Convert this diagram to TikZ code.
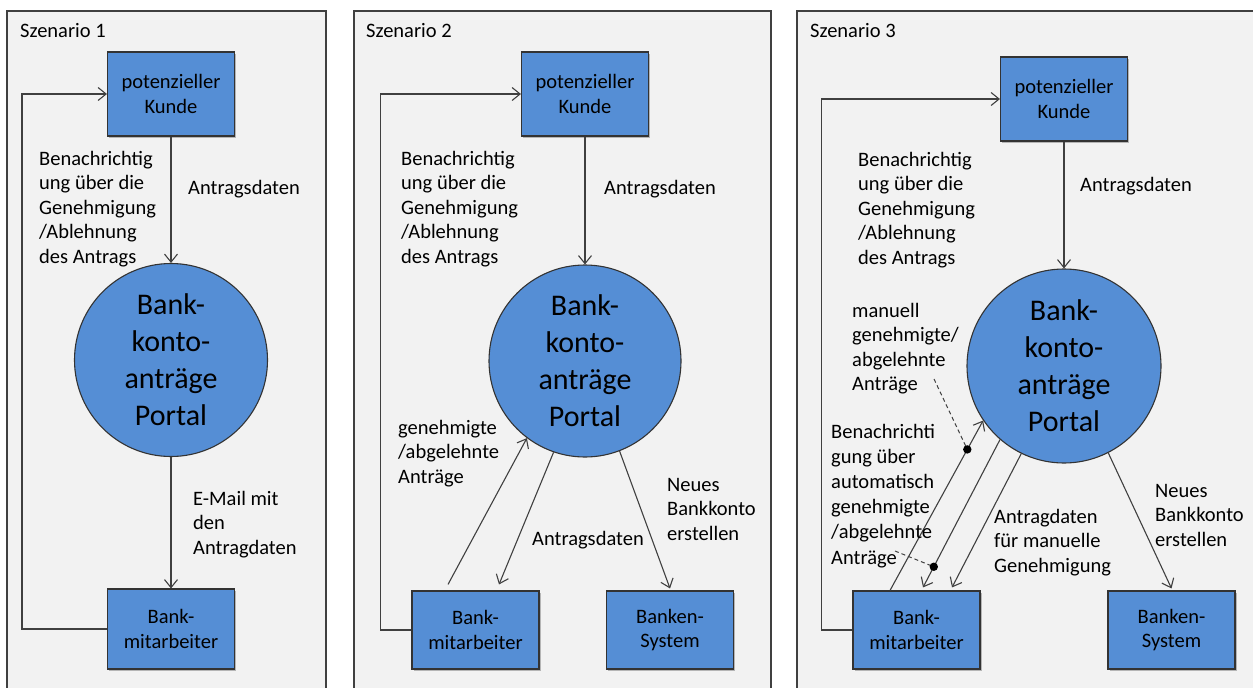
\documentclass[tikz,border=0pt]{standalone}
\usepackage{fontspec}
\setmainfont{Carlito}
\usetikzlibrary{arrows.meta,shadows}
\definecolor{boxblue}{HTML}{558ED5}
\definecolor{panelbg}{HTML}{F2F2F2}
\definecolor{edge}{HTML}{404040}
\begin{document}
\begin{tikzpicture}[x=1pt,y=-1pt,
  panel/.style={draw=edge, line width=1.2pt, fill=panelbg},
  bx/.style={draw=black!80, line width=1.1pt, fill=boxblue, minimum width=127pt, minimum height=#1,
    align=center, inner sep=0pt, font=\fontsize{20.5}{24.5}\selectfont,
    drop shadow={shadow xshift=1.5pt, shadow yshift=-2pt, opacity=0.25, fill=black}},
  portal/.style={circle, draw=black!80, line width=1.1pt, fill=boxblue, minimum size=#1,
    align=center, inner sep=0pt, font=\fontsize{30}{37}\selectfont},
  lbl/.style={anchor=base west, align=left, inner sep=0pt, font=\fontsize{20.5}{24.5}\selectfont},
  arr/.style={draw=edge, line width=1.1pt, -{Straight Barb[length=8pt,width=13pt]}},
  dsh/.style={draw=edge, line width=1pt, dash pattern=on 4pt off 3pt},
  dotm/.style={fill=black}
]
\useasboundingbox (0,0) rectangle (1253,688);
\clip (0,0) rectangle (1253,688);
\fill[white] (0,0) rectangle (1253,688);

% panels
\draw[panel] (7,11) rectangle (326,700);
\draw[panel] (354,11) rectangle (771,700);
\draw[panel] (797,11) rectangle (1265,700);

% ---------------- Scenario 1
\node[lbl] (s1) at (20,37) {Szenario 1};
\node[bx=84pt] (k1) at (171,94) {potenzieller\\Kunde};
\node[portal=193pt] (c1) at (171,360) {Bank-\\konto-\\anträge\\Portal};
\node[bx=80pt] (b1) at (171,629) {Bank-\\mitarbeiter};
\draw[arr] (k1) -- (c1);
\draw[arr] (c1) -- (b1);
\draw[arr] (b1.west) -- ++(-85,0) |- (k1.west);
% base anchor = baseline of the last line
\node[lbl] (l1a) at (39,263) {Benachrichtig\\ung über die\\Genehmigung\\/Ablehnung\\des Antrags};
\node[lbl] (l1b) at (188,194) {Antragsdaten};
\node[lbl] (l1c) at (193,554) {E-Mail mit\\den\\Antragdaten};

% ---------------- Scenario 2
\node[lbl] (s2) at (366,37) {Szenario 2};
\node[bx=84pt] (k2) at (585,94) {potenzieller\\Kunde};
\node[portal=192pt] (c2) at (585,361) {Bank-\\konto-\\anträge\\Portal};
\node[bx=78pt] (b2) at (475.5,630) {Bank-\\mitarbeiter};
\node[bx=78pt] (bs2) at (670,630) {Banken-\\System};
\draw[arr] (k2) -- (c2);
\draw[arr] (b2.west) -- ++(-31,0) |- (k2.west);
\draw[arr] ([shift={(-27.5pt,6pt)}]b2.north) -- (c2.233);
\draw[arr] (c2.251) -- ([shift={(23.5pt,6pt)}]b2.north);
\draw[arr] (c2.291) -- ([yshift=2pt]bs2.north);
\node[lbl] (l2a) at (401,263) {Benachrichtig\\ung über die\\Genehmigung\\/Ablehnung\\des Antrags};
\node[lbl] (l2b) at (604,194) {Antragsdaten};
\node[lbl] (l2c) at (398,483) {genehmigte\\/abgelehnte\\Anträge};
\node[lbl] (l2d) at (532,545) {Antragsdaten};
\node[lbl] (l2e) at (667,540) {Neues\\Bankkonto\\erstellen};

% ---------------- Scenario 3
\node[lbl] (s3) at (810,37) {Szenario 3};
\node[bx=84pt] (k3) at (1064,99) {potenzieller\\Kunde};
\node[portal=194pt] (c3) at (1064,366) {Bank-\\konto-\\anträge\\Portal};
\node[bx=78pt] (b3) at (916.5,630) {Bank-\\mitarbeiter};
\node[bx=78pt] (bs3) at (1171.5,630) {Banken-\\System};
\draw[arr] (k3) -- (c3);
\draw[arr] (b3.west) -- ++(-31,0) |- (k3.west);
\draw[arr] ([xshift=-26.5pt]b3.north) -- (c3.214) coordinate[pos=0.83] (d1);
\draw[arr] (c3.229) -- ([shift={(6.5pt,3pt)}]b3.north) coordinate[pos=0.86] (d2);
\draw[arr] (c3.244) -- ([shift={(35.5pt,3pt)}]b3.north);
\draw[arr] (c3.297) -- ([yshift=2pt]bs3.north);
\coordinate (m1) at (934,379);
\coordinate (m2) at (895,551);
\draw[dsh] (m1) -- (d1);
\draw[dsh] (m2) -- (d2);
\fill[dotm] (d1) circle (4.2pt);
\fill[dotm] (d2) circle (4.2pt);
\node[lbl] (l3a) at (858,264) {Benachrichtig\\ung über die\\Genehmigung\\/Ablehnung\\des Antrags};
\node[lbl] (l3b) at (1080,191) {Antragsdaten};
\node[lbl] (l3c) at (852,390.5) {manuell\\genehmigte/\\abgelehnte\\Anträge};
\node[lbl, font=\fontsize{20.5}{25.2}\selectfont] (l3d) at (831,564) {Benachrichti\\gung über\\automatisch\\genehmigte\\/abgelehnte\\Anträge};
\node[lbl] (l3e) at (994,572) {Antragdaten\\für manuelle\\Genehmigung};
\node[lbl] (l3f) at (1155,546) {Neues\\Bankkonto\\erstellen};
\end{tikzpicture}
\end{document}
